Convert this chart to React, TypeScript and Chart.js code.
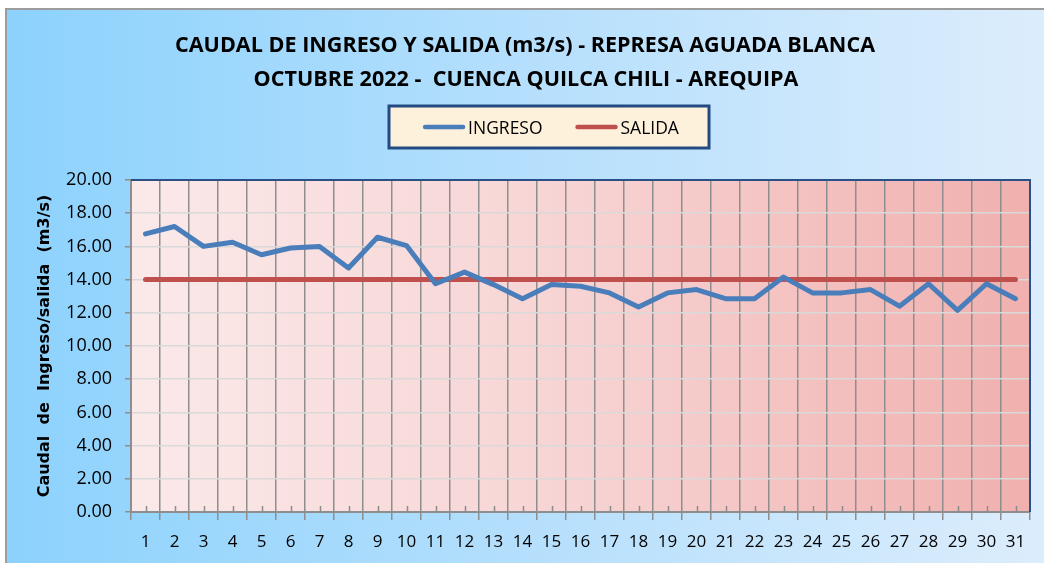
import React, { useEffect, useRef } from "react";
import { Chart, registerables } from "chart.js";

Chart.register(...registerables);

const TITLE_LINES = [
  "CAUDAL DE INGRESO Y SALIDA (m3/s) - REPRESA AGUADA BLANCA",
  "OCTUBRE 2022 -  CUENCA QUILCA CHILI - AREQUIPA",
];

const DAYS = [
  "1", "2", "3", "4", "5", "6", "7", "8", "9", "10",
  "11", "12", "13", "14", "15", "16", "17", "18", "19", "20",
  "21", "22", "23", "24", "25", "26", "27", "28", "29", "30", "31",
];

const INGRESO = [
  16.75, 17.2, 16.0, 16.25, 15.5, 15.9, 16.0, 14.7, 16.55, 16.05,
  13.75, 14.45, 13.7, 12.85, 13.7, 13.6, 13.2, 12.35, 13.2, 13.4,
  12.85, 12.85, 14.15, 13.2, 13.2, 13.4, 12.4, 13.75, 12.15, 13.75, 12.85,
];

const SALIDA = [
  14.0, 14.0, 14.0, 14.0, 14.0, 14.0, 14.0, 14.0, 14.0, 14.0,
  14.0, 14.0, 14.0, 14.0, 14.0, 14.0, 14.0, 14.0, 14.0, 14.0,
  14.0, 14.0, 14.0, 14.0, 14.0, 14.0, 14.0, 14.0, 14.0, 14.0, 14.0,
];

const SERIES_LABELS = ["INGRESO", "SALIDA"];
const SERIES_COLORS = ["#4a7ebb", "#c0504d"];

const Y_TITLE = "Caudal  de  Ingreso/salida  (m3/s)";
const Y_MIN = 0;
const Y_MAX = 20;
const Y_STEP = 2;

const W = 1044;
const H = 563;

function drawCondensed(ctx: CanvasRenderingContext2D, text: string, cx: number, baseline: number, sx: number, align: "center" | "left") {
  const w = ctx.measureText(text).width * sx;
  const x0 = align === "center" ? cx - w / 2 : cx;
  ctx.save();
  ctx.translate(x0, baseline);
  ctx.scale(sx, 1);
  ctx.textAlign = "left";
  ctx.textBaseline = "alphabetic";
  ctx.fillText(text, 0, 0);
  ctx.restore();
  return w;
}

const decor = {
  id: "decor",
  beforeDraw(chart: any) {
    const { ctx, width, height, chartArea: a } = chart;
    ctx.save();
    ctx.fillStyle = "#ffffff";
    ctx.fillRect(0, 0, width, height);
    const g = ctx.createLinearGradient(6, 0, width, 0);
    g.addColorStop(0, "#8cd2fd");
    g.addColorStop(0.5, "#b5dffc");
    g.addColorStop(1, "#dcedfc");
    ctx.fillStyle = g;
    ctx.fillRect(6, 9, width - 6, height - 9);
    ctx.strokeStyle = "#9c9c9c";
    ctx.lineWidth = 2;
    ctx.beginPath();
    ctx.moveTo(6, height);
    ctx.lineTo(6, 9);
    ctx.lineTo(width, 9);
    ctx.stroke();

    const pg = ctx.createLinearGradient(a.left, 0, a.right, 0);
    pg.addColorStop(0, "#fbe9e9");
    pg.addColorStop(0.5, "#f7d3d3");
    pg.addColorStop(1, "#f0b0ae");
    ctx.fillStyle = pg;
    ctx.fillRect(a.left, a.top, a.right - a.left, a.bottom - a.top);

    // title
    ctx.fillStyle = "#000000";
    ctx.font = "bold 21px 'Open Sans'";
    const sx = 700 / ctx.measureText(TITLE_LINES[0]).width;
    drawCondensed(ctx, TITLE_LINES[0], 525, 51.5, sx, "center");
    drawCondensed(ctx, TITLE_LINES[1], 526, 85.5, sx, "center");
    ctx.restore();
  },
  afterDraw(chart: any) {
    const { ctx, chartArea: a } = chart;
    const xs = chart.scales.x;
    ctx.save();
    // minor ticks at category centres
    ctx.strokeStyle = "#8c8c8c";
    ctx.lineWidth = 1.5;
    ctx.beginPath();
    for (let i = 0; i < DAYS.length; i++) {
      const px = Math.round(xs.getPixelForValue(i)) + 0.5;
      ctx.moveTo(px, a.bottom - 6);
      ctx.lineTo(px, a.bottom);
    }
    ctx.stroke();
    // top / right border
    ctx.strokeStyle = "#2b4f87";
    ctx.lineWidth = 2;
    ctx.beginPath();
    ctx.moveTo(a.left, a.top);
    ctx.lineTo(a.right, a.top);
    ctx.lineTo(a.right, a.bottom);
    ctx.stroke();

    // legend
    const bx = 389, by = 106, bw = 320, bh = 42;
    ctx.fillStyle = "#fdf1dc";
    ctx.fillRect(bx, by, bw, bh);
    ctx.strokeStyle = "#244a82";
    ctx.lineWidth = 3;
    ctx.strokeRect(bx, by, bw, bh);

    ctx.font = "19px 'Open Sans'";
    const lsx = 0.92;
    const sample = 42, gap = 3, spacing = 33;
    const ds = chart.data.datasets;
    let total = 0;
    ds.forEach((d: any, i: number) => {
      total += sample + gap + ctx.measureText(d.label).width * lsx + (i < ds.length - 1 ? spacing : 0);
    });
    let x = bx + bw / 2 - total / 2 + 2;
    const cy = 127;
    ds.forEach((d: any) => {
      ctx.strokeStyle = d.borderColor;
      ctx.lineWidth = 4.5;
      ctx.lineCap = "round";
      ctx.beginPath();
      ctx.moveTo(x + 2, cy);
      ctx.lineTo(x + sample - 2, cy);
      ctx.stroke();
      ctx.fillStyle = "#000000";
      const tw = drawCondensed(ctx, d.label, x + sample + gap, 134, lsx, "left");
      x += sample + gap + tw + spacing;
    });
    ctx.restore();
  },
};

export default function App() {
  const ref = useRef<HTMLCanvasElement | null>(null);
  useEffect(() => {
    if (!ref.current) return;
    const chart = new Chart(ref.current, {
      type: "line",
      data: {
        labels: DAYS,
        datasets: [
          {
            label: SERIES_LABELS[0],
            data: INGRESO,
            borderColor: SERIES_COLORS[0],
            backgroundColor: SERIES_COLORS[0],
            borderWidth: 5,
            pointRadius: 0,
            tension: 0,
            borderJoinStyle: "round",
            borderCapStyle: "round",
          },
          {
            label: SERIES_LABELS[1],
            data: SALIDA,
            borderColor: SERIES_COLORS[1],
            backgroundColor: SERIES_COLORS[1],
            borderWidth: 5,
            pointRadius: 0,
            tension: 0,
            borderCapStyle: "round",
          },
        ],
      },
      options: {
        animation: false,
        responsive: false,
        devicePixelRatio: 1,
        layout: { padding: { top: 180, right: 14, left: 0, bottom: 0 } },
        plugins: {
          legend: { display: false },
          title: { display: false },
          tooltip: { enabled: false },
        },
        scales: {
          x: {
            offset: true,
            grid: {
              offset: true,
              color: "#8e8e8e",
              lineWidth: 1.5,
              drawTicks: true,
              tickLength: 8,
              tickColor: "#8e8e8e",
            },
            border: { color: "#8e8e8e", width: 2 },
            ticks: {
              color: "#000000",
              font: { family: "'Open Sans'", size: 17 },
              padding: 12,
              maxRotation: 0,
              autoSkip: false,
            },
            afterFit(scale: any) {
              scale.height = 51;
            },
          },
          y: {
            min: Y_MIN,
            max: Y_MAX,
            ticks: {
              stepSize: Y_STEP,
              color: "#000000",
              font: { family: "'Open Sans'", size: 18 },
              padding: 13,
              callback: (v: any) => Number(v).toFixed(2),
            },
            grid: {
              color: "#d9d9d9",
              lineWidth: 1.5,
              tickColor: "#8e8e8e",
              tickLength: 6,
            },
            border: { color: "#8e8e8e", width: 2 },
            title: {
              display: true,
              text: Y_TITLE,
              color: "#000000",
              font: { family: "'DejaVu Sans'", size: 16, weight: "bold" },
              padding: { top: 35, bottom: 0 },
            },
            afterFit(scale: any) {
              scale.width = 131;
            },
          },
        },
      },
      plugins: [decor],
    });
    return () => chart.destroy();
  }, []);
  return (
    <canvas
      ref={ref}
      width={W}
      height={H}
      style={{ position: "fixed", left: 0, top: 0, width: W, height: H }}
    />
  );
}
